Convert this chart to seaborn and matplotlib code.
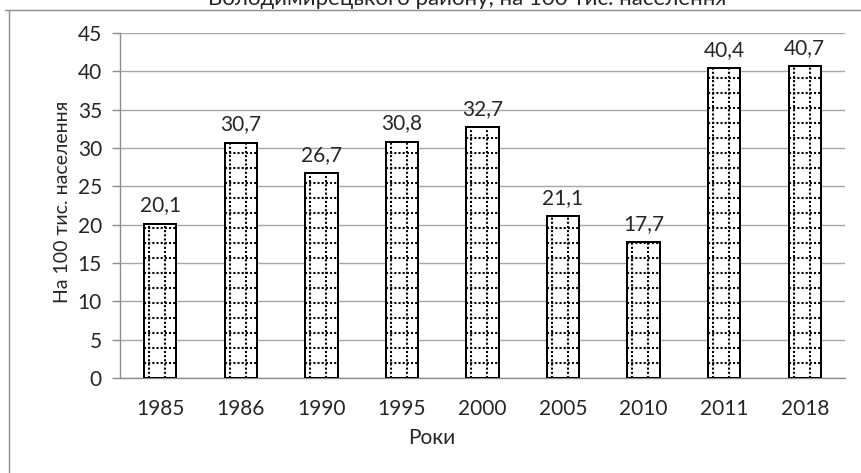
import matplotlib
matplotlib.use("Agg")
import matplotlib.pyplot as plt
from matplotlib.lines import Line2D
import seaborn as sns
import pandas as pd

years = ["1985", "1986", "1990", "1995", "2000", "2005", "2010", "2011", "2018"]
rates = [20.1, 30.7, 26.7, 30.8, 32.7, 21.1, 17.7, 40.4, 40.7]
title = "Володимирецького району, на 100 тис. населення"
y_label = "На 100 тис. населення"
x_label = "Роки"

sns.set_theme(style="white")
plt.rcParams["font.family"] = ["Lato", "DejaVu Sans"]

df = pd.DataFrame({"year": years, "rate": rates})

fig = plt.figure(figsize=(8.61, 4.73), dpi=100)
ax = fig.add_axes([0.1394, 0.2008, 0.8420, 0.7294])

sns.barplot(data=df, x="year", y="rate", ax=ax, color="white",
            edgecolor="black", linewidth=1.4, width=0.4, zorder=3)

ax.set_ylim(0, 45)
ax.set_yticks(range(0, 50, 5))
ax.set_xlim(-0.5, len(years) - 0.5)
ax.yaxis.grid(True, color="#a6a6a6", linewidth=1.0, zorder=0)
ax.set_axisbelow(True)
for side in ("top", "right"):
    ax.spines[side].set_visible(False)
for side in ("left", "bottom"):
    ax.spines[side].set_color("#8c8c8c")
    ax.spines[side].set_linewidth(1.0)
ax.tick_params(axis="y", which="major", left=True, length=6, width=1.0,
               color="#8c8c8c", labelsize=15, pad=7)
ax.tick_params(axis="x", bottom=False, labelsize=15, pad=9)

ax.set_xlabel(x_label, fontsize=15)
ax.set_ylabel(y_label, fontsize=14)
ax.xaxis.set_label_coords((432 - 120) / 725, -(438 - 378) / 345)
ax.yaxis.set_label_coords(-(120 - 62) / 725, (378 - 202) / 345)
ax.xaxis.label.set_va("center")
ax.yaxis.label.set_va("center")

fig.canvas.draw()

# dotted grid fill inside each bar, spaced in screen pixels
px_per_x = ax.transData.transform((1, 0))[0] - ax.transData.transform((0, 0))[0]
px_per_y = ax.transData.transform((0, 1))[1] - ax.transData.transform((0, 0))[1]
dx = 16 / px_per_x
dy = 15 / px_per_y
off = 5 / px_per_x
dot_style = dict(color="black", linewidth=1.5, linestyle=(0, (1.0, 1.0)), zorder=4)
for patch in ax.patches:
    x0 = patch.get_x()
    w = patch.get_width()
    h = patch.get_height()
    xv = x0 + off
    while xv < x0 + w:
        ax.add_line(Line2D([xv, xv], [0, h], **dot_style))
        xv += dx
    yv = dy
    while yv < h:
        ax.add_line(Line2D([x0, x0 + w], [yv, yv], **dot_style))
        yv += dy
    # redraw the outline above the dots
    ax.add_patch(plt.Rectangle((x0, 0), w, h, fill=False, edgecolor="black",
                               linewidth=1.4, zorder=5))

for patch, v in zip(ax.patches[:len(rates)], rates):
    ax.annotate(f"{v:.1f}".replace(".", ","),
                (patch.get_x() + patch.get_width() / 2, v),
                xytext=(0, 6), textcoords="offset points",
                ha="center", va="bottom", fontsize=15)

# chart frame
fig.add_artist(Line2D([0.006, 1.0], [1 - 10 / 473, 1 - 10 / 473],
                      transform=fig.transFigure, color="#8c8c8c", linewidth=1.0))
fig.add_artist(Line2D([9 / 861, 9 / 861], [0, 1 - 10 / 473],
                      transform=fig.transFigure, color="#8c8c8c", linewidth=1.0))

fig.text(0.543, 1 - 5 / 473, title, ha="center", va="baseline", fontsize=16)

fig.savefig("out.png", dpi=100)
